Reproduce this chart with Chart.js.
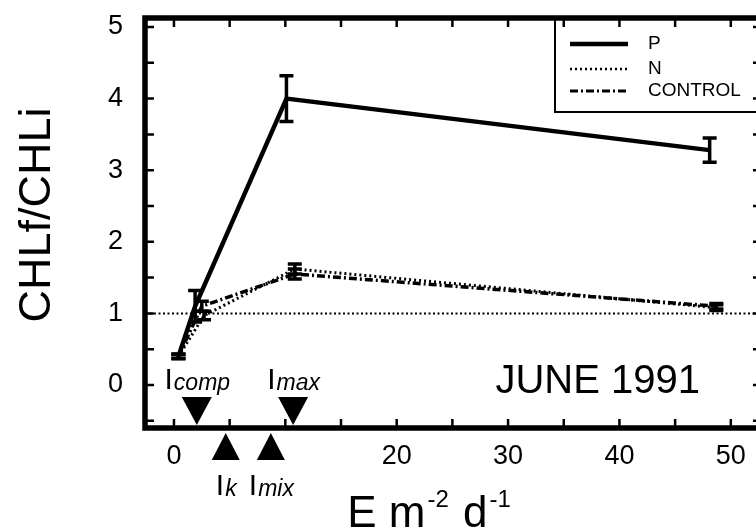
<!DOCTYPE html>
<html>
<head>
<meta charset="utf-8">
<script src="https://cdn.jsdelivr.net/npm/chart.js@4.4.1/dist/chart.umd.min.js"></script>
<style>
  html, body { margin: 0; padding: 0; background: #fff; overflow: hidden; }
  #wrap { width: 780px; height: 531px; }
</style>
</head>
<body>
<div id="wrap"><canvas id="myChart"></canvas></div>
<script>
// light dose (E m-2 d-1) vs CHLf/CHLi, June 1991
var pX = [0.4, 1.9, 10.1, 48.1];
var pY = [0.40, 1.10, 4.00, 3.28];
var pErr = [0.03, 0.22, 0.32, 0.17];

var nX = [0.4, 2.7, 10.85, 48.7];
var nY = [0.40, 0.97, 1.62, 1.08];
var nErr = [0.03, 0.06, 0.07, 0.04];

var cX = [0.4, 2.5, 10.85, 48.7];
var cY = [0.40, 1.10, 1.55, 1.10];
var cErr = [0.03, 0.07, 0.07, 0.04];

var yTickLabels = ['0', '1', '2', '3', '4', '5'];
var xTickLabels = ['0', '20', '30', '40', '50'];

// light levels marked on the x axis
var markNames = ['comp', 'k', 'mix', 'max'];
var markX = [2.05, 4.65, 8.7, 10.7];
var markDir = ['down', 'up', 'up', 'down'];

var refLevel = 1;

function pts(xs, ys) {
  return xs.map(function(x, i){ return {x: x, y: ys[i]}; });
}

var FONT = '"Liberation Sans", Arial, sans-serif';

/*======= drawing extras: frame, inner ticks, error bars, markers, texts =======*/
var overlay = {
  id: 'overlay',
  beforeDatasetsDraw: function(chart) {
    var ctx = chart.ctx, a = chart.chartArea;
    var y1 = chart.scales.y.getPixelForValue(refLevel);
    ctx.save();
    ctx.strokeStyle = '#000';
    ctx.lineWidth = 2;
    ctx.setLineDash([2, 2.5]);
    ctx.beginPath(); ctx.moveTo(a.left, y1); ctx.lineTo(a.right, y1); ctx.stroke();
    ctx.restore();
  },
  afterDatasetsDraw: function(chart) {
    var ctx = chart.ctx, a = chart.chartArea;
    var xs = chart.scales.x, ys = chart.scales.y;
    ctx.save();
    ctx.strokeStyle = '#000';
    ctx.fillStyle = '#000';

    // error bars
    chart.data.datasets.forEach(function(ds){
      ctx.lineWidth = 3.5;
      ds.data.forEach(function(p, j){
        var e = ds.errs[j];
        var px = xs.getPixelForValue(p.x);
        var top = ys.getPixelForValue(p.y + e), bot = ys.getPixelForValue(p.y - e);
        ctx.beginPath();
        ctx.moveTo(px, top); ctx.lineTo(px, bot);
        ctx.moveTo(px - 7, top); ctx.lineTo(px + 7, top);
        ctx.moveTo(px - 7, bot); ctx.lineTo(px + 7, bot);
        ctx.stroke();
      });
    });

    // frame
    ctx.lineWidth = 5.5;
    ctx.strokeRect(a.left, a.top, a.right - a.left, a.bottom - a.top);

    // inner ticks
    ctx.lineWidth = 2.5;
    ys.ticks.forEach(function(t){
      var py = ys.getPixelForValue(t.value);
      ctx.beginPath();
      ctx.moveTo(a.left, py); ctx.lineTo(a.left + 9, py);
      ctx.moveTo(a.right, py); ctx.lineTo(a.right - 9, py);
      ctx.stroke();
    });
    xs.ticks.forEach(function(t){
      var px = xs.getPixelForValue(t.value);
      ctx.beginPath();
      ctx.moveTo(px, a.bottom); ctx.lineTo(px, a.bottom - 9);
      ctx.moveTo(px, a.top); ctx.lineTo(px, a.top + 9);
      ctx.stroke();
    });

    // light markers with labels
    markX.forEach(function(v, i){
      var px = xs.getPixelForValue(v);
      ctx.beginPath();
      if (markDir[i] === 'down') {
        ctx.moveTo(px, a.bottom - 3);
        ctx.lineTo(px - 15, a.bottom - 31);
        ctx.lineTo(px + 15, a.bottom - 31);
      } else {
        ctx.moveTo(px, a.bottom + 5);
        ctx.lineTo(px - 14, a.bottom + 32);
        ctx.lineTo(px + 14, a.bottom + 32);
      }
      ctx.closePath();
      ctx.fill();

      var base = markDir[i] === 'down' ? a.bottom - 39 : a.bottom + 67;
      ctx.font = '30px ' + FONT;
      var wI = ctx.measureText('I').width;
      ctx.font = 'italic 23px ' + FONT;
      var wS = ctx.measureText(markNames[i]).width;
      var x0 = px - (wI + wS) / 2;
      ctx.textAlign = 'left';
      ctx.textBaseline = 'alphabetic';
      ctx.font = '30px ' + FONT;
      ctx.fillText('I', x0, base);
      ctx.font = 'italic 23px ' + FONT;
      ctx.fillText(markNames[i], x0 + wI + 1, base + 1);
    });

    // JUNE 1991
    ctx.font = '40px ' + FONT;
    ctx.textAlign = 'right';
    ctx.fillText('JUNE 1991', 700, 393);

    // legend box
    var lx = 555, lb = 112;
    ctx.lineWidth = 2;
    ctx.beginPath();
    ctx.moveTo(lx, a.top); ctx.lineTo(lx, lb); ctx.lineTo(a.right, lb);
    ctx.stroke();
    var rows = [44, 69, 91];
    chart.data.datasets.forEach(function(ds, i){
      ctx.lineWidth = ds.legendWidth;
      ctx.setLineDash(ds.borderDash || []);
      ctx.beginPath(); ctx.moveTo(570, rows[i]); ctx.lineTo(628, rows[i]); ctx.stroke();
      ctx.setLineDash([]);
      ctx.font = '19px ' + FONT;
      ctx.textAlign = 'left';
      ctx.textBaseline = 'middle';
      ctx.fillText(ds.label, 648, rows[i]);
    });

    // axis titles
    ctx.textBaseline = 'alphabetic';
    ctx.save();
    ctx.translate(50, 215);
    ctx.rotate(-Math.PI / 2);
    ctx.textAlign = 'center';
    ctx.font = '45px ' + FONT;
    ctx.fillText('CHLf/CHLi', 0, 0);
    ctx.restore();

    var parts = [['E m', 44, 0], ['-2', 24, -20], [' d', 44, 0], ['-1', 24, -20]];
    var total = 0;
    parts.forEach(function(p){ ctx.font = p[1] + 'px ' + FONT; total += ctx.measureText(p[0]).width + 2; });
    var tx = 430 - total / 2;
    ctx.textAlign = 'left';
    parts.forEach(function(p){
      ctx.font = p[1] + 'px ' + FONT;
      ctx.fillText(p[0], tx, 527 + p[2]);
      tx += ctx.measureText(p[0]).width + 2;
    });

    ctx.restore();
  }
};

var ctx = document.getElementById('myChart').getContext('2d');
var myChart = new Chart(ctx, {
  type: 'line',
  data: {
    datasets: [{
      label: 'P',
      data: pts(pX, pY),
      errs: pErr,
      borderColor: '#000',
      borderWidth: 4.5,
      legendWidth: 4.5,
      pointRadius: 0
    }, {
      label: 'N',
      data: pts(nX, nY),
      errs: nErr,
      borderColor: '#000',
      borderWidth: 3,
      legendWidth: 2.5,
      borderDash: [2, 3],
      pointRadius: 0
    }, {
      label: 'CONTROL',
      data: pts(cX, cY),
      errs: cErr,
      borderColor: '#000',
      borderWidth: 3.5,
      legendWidth: 3,
      borderDash: [8, 3, 2, 3],
      pointRadius: 0
    }]
  },
  plugins: [overlay],
  options: {
    responsive: true,
    maintainAspectRatio: false,
    animation: false,
    devicePixelRatio: 1,
    layout: { padding: { top: 18, right: 18, left: 0, bottom: 0 } },
    plugins: {
      legend: { display: false },
      tooltip: { enabled: false }
    },
    scales: {
      x: {
        type: 'linear',
        min: -2.6,
        max: 52.8,
        grid: { display: false, drawTicks: false },
        border: { display: false },
        afterFit: function(scale){
          scale.height = 103;
          scale.paddingLeft = 0; scale.paddingRight = 0;
        },
        ticks: {
          stepSize: 5,
          includeBounds: false,
          autoSkip: false,
          maxRotation: 0,
          padding: 12,
          color: '#000',
          font: { family: FONT, size: 27 },
          callback: function(v){ var s = String(v); return xTickLabels.indexOf(s) >= 0 ? s : ''; }
        }
      },
      y: {
        min: -0.6,
        max: 5.125,
        grid: { display: false, drawTicks: false },
        border: { display: false },
        afterFit: function(scale){
          scale.width = 145;
          scale.paddingTop = 0; scale.paddingBottom = 0;
        },
        ticks: {
          stepSize: 0.5,
          includeBounds: false,
          autoSkip: false,
          padding: 22,
          color: '#000',
          font: { family: FONT, size: 27 },
          callback: function(v){ var s = String(v); return yTickLabels.indexOf(s) >= 0 ? s : ''; }
        }
      }
    }
  }
});
</script>
</body>
</html>
